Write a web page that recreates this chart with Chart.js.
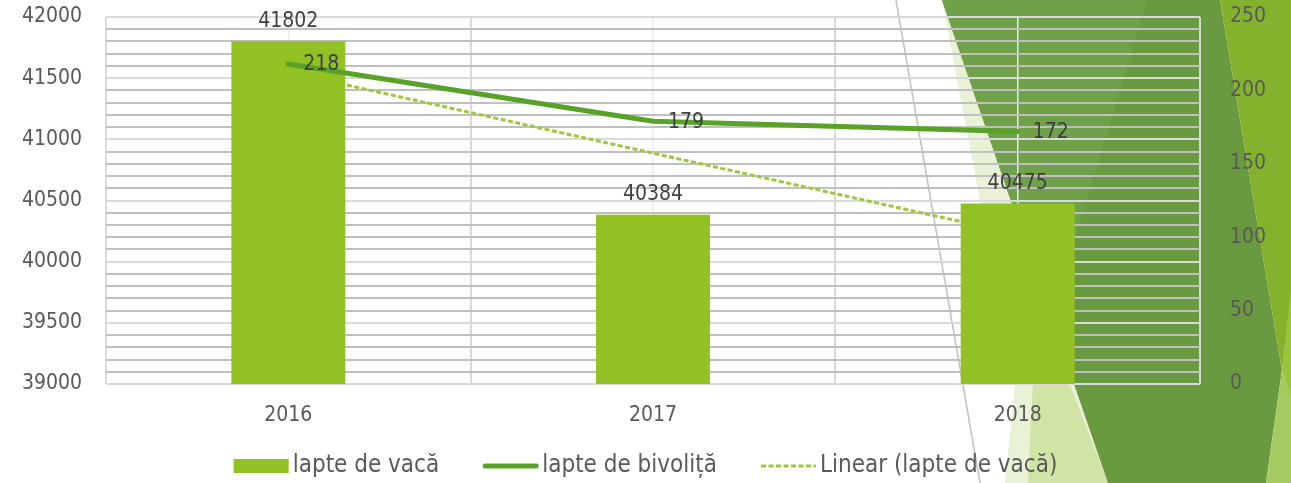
<!DOCTYPE html>
<html><head><meta charset="utf-8">
<script src="https://cdn.jsdelivr.net/npm/chart.js@4"></script>
<style>html,body{margin:0;padding:0;background:#fff;overflow:hidden}canvas{display:block}</style>
</head><body>
<canvas id="c" width="1291" height="483"></canvas>
<script>
// ---- data ----
const categories = ['2016', '2017', '2018'];
const cowMilk = [41802, 40384, 40475];
const buffaloMilk = [218, 179, 172];
const cowTrend = [41550, 40887, 40224];
const seriesNames = ['lapte de vacă', 'lapte de bivoliță', 'Linear (lapte de vacă)'];
const leftAxis = { min: 39000, max: 42000, labelStep: 500, gridStep: 100 };
const rightAxis = { min: 0, max: 250, step: 50 };

const FONT = '"DejaVu Sans Condensed", "DejaVu Sans", sans-serif';
Chart.defaults.font.family = FONT;

const noPad = s => { s.paddingTop = 0; s.paddingBottom = 0; s.paddingLeft = 0; s.paddingRight = 0; };

const bgPlugin = {
  id: 'bg',
  beforeDraw(chart) {
    const c = chart.ctx;
    c.save();
    c.fillStyle = '#ffffff';
    c.fillRect(0, 0, chart.width, chart.height);
    const poly = (pts, col) => {
      c.beginPath();
      c.moveTo(pts[0][0], pts[0][1]);
      for (let i = 1; i < pts.length; i++) c.lineTo(pts[i][0], pts[i][1]);
      c.closePath();
      c.fillStyle = col;
      c.fill();
    };
    poly([[942, 0], [1015, 385], [1005, 483], [1108, 483]], '#e9f1d7');
    poly([[1028, 483], [1037, 300], [1108, 483]], '#d0e4a6');
    poly([[942, 0], [1220, 0], [1282, 370], [1266, 483], [1108, 483]], '#6a9a3f');
    poly([[942, 0], [1147, 0], [1051, 318]], '#71a04b');
    poly([[1220, 0], [1291, 0], [1291, 300], [1282, 370]], '#84b22d');
    poly([[1291, 290], [1282, 370], [1291, 400]], '#98c43e');
    poly([[1282, 370], [1291, 395], [1291, 483], [1266, 483]], '#a6ca62');
    c.strokeStyle = '#bfbfbf';
    c.lineWidth = 1.5;
    c.beginPath();
    c.moveTo(896, 0);
    c.lineTo(980, 483);
    c.stroke();
    c.restore();
  }
};

const labelPlugin = {
  id: 'vlabels',
  afterDatasetsDraw(chart) {
    const c = chart.ctx;
    c.save();
    c.font = '21px ' + FONT;
    c.fillStyle = '#404040';
    c.textBaseline = 'middle';
    const barMeta = chart.getDatasetMeta(0);
    c.textAlign = 'center';
    barMeta.data.forEach((el, i) => {
      c.fillText(String(cowMilk[i]), el.x, el.y - 20);
    });
    const lineMeta = chart.getDatasetMeta(1);
    c.textAlign = 'left';
    lineMeta.data.forEach((el, i) => {
      c.fillText(String(buffaloMilk[i]), el.x + 15, el.y + 1);
    });
    c.restore();
  }
};

const legendPlugin = {
  id: 'customLegend',
  afterDraw(chart) {
    const c = chart.ctx;
    c.save();
    c.font = '24px ' + FONT;
    c.textBaseline = 'middle';
    c.textAlign = 'left';
    const sw = 55, gapText = 4, gapItem = 44, cy = 466;
    const ds = chart.data.datasets;
    const widths = ds.map(d => sw + gapText + c.measureText(d.label).width);
    const total = widths.reduce((a, b) => a + b, 0) + gapItem * (ds.length - 1);
    let x = (chart.width - total) / 2;
    ds.forEach((d, i) => {
      if (d.type === 'bar') {
        c.fillStyle = d.backgroundColor;
        c.fillRect(x, cy - 7, sw, 14);
      } else {
        c.strokeStyle = d.borderColor;
        c.lineWidth = d.borderWidth;
        c.setLineDash(d.borderDash || []);
        c.lineCap = d.borderDash ? 'butt' : 'round';
        c.beginPath();
        c.moveTo(x + (d.borderDash ? 0 : 2), cy);
        c.lineTo(x + sw - (d.borderDash ? 0 : 2), cy);
        c.stroke();
        c.setLineDash([]);
      }
      c.fillStyle = '#595959';
      c.fillText(d.label, x + sw + gapText, cy);
      x += widths[i] + gapItem;
    });
    c.restore();
  }
};

new Chart(document.getElementById('c'), {
  data: {
    labels: categories,
    datasets: [
      {
        type: 'bar', label: seriesNames[0], data: cowMilk,
        backgroundColor: '#92c124', xAxisID: 'x', yAxisID: 'y', order: 2,
        barPercentage: 1, categoryPercentage: 0.3125
      },
      {
        type: 'line', label: seriesNames[1], data: buffaloMilk,
        borderColor: '#57a227', borderWidth: 5, pointRadius: 0, tension: 0,
        borderJoinStyle: 'round', borderCapStyle: 'round',
        xAxisID: 'x', yAxisID: 'y2', order: 1, fill: false
      },
      {
        type: 'line', label: seriesNames[2], data: cowTrend,
        borderColor: '#9bc83f', borderWidth: 3, borderDash: [5, 2.5], pointRadius: 0,
        tension: 0, xAxisID: 'x', yAxisID: 'y', order: 3, fill: false
      }
    ]
  },
  options: {
    responsive: false,
    animation: false,
    events: [],
    layout: { padding: { top: 17, left: 0, right: 0, bottom: 0 } },
    plugins: { legend: { display: false }, tooltip: { enabled: false } },
    scales: {
      x: {
        type: 'category', position: 'bottom', offset: true,
        grid: { offset: true, color: '#d9d9d9', lineWidth: 2, drawTicks: false },
        border: { display: false },
        ticks: { padding: 19, color: '#595959', font: { size: 21 } },
        afterFit(s) { s.height = 99; noPad(s); }
      },
      xc: {
        type: 'category', position: 'bottom', labels: categories, offset: true,
        grid: { offset: false, color: '#ebebeb', lineWidth: 1.5, drawTicks: false },
        border: { display: false },
        ticks: { display: false },
        afterFit(s) { s.height = 0; noPad(s); }
      },
      y: {
        position: 'left', min: leftAxis.min, max: leftAxis.max,
        ticks: {
          stepSize: leftAxis.gridStep, autoSkip: false, padding: 24,
          color: '#595959', font: { size: 21 },
          callback: v => (v % leftAxis.labelStep === 0 ? String(v) : '')
        },
        grid: {
          color: ctx => (ctx.tick && ctx.tick.value % leftAxis.labelStep === 0 ? '#d9d9d9' : '#bfbfbf'),
          lineWidth: 2, drawTicks: false
        },
        border: { display: false },
        afterFit(s) { s.width = 106; noPad(s); }
      },
      y2: {
        position: 'right', min: rightAxis.min, max: rightAxis.max,
        ticks: { stepSize: rightAxis.step, padding: 22, color: '#595959', font: { size: 21 } },
        grid: { display: false },
        border: { display: false },
        afterFit(s) { s.width = 91; noPad(s); }
      }
    }
  },
  plugins: [bgPlugin, labelPlugin, legendPlugin]
});
</script>
</body></html>
